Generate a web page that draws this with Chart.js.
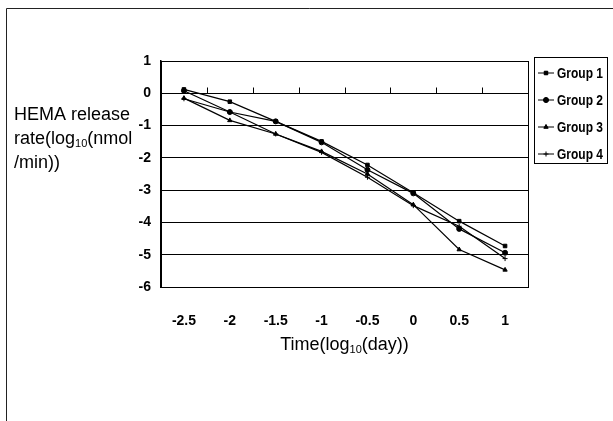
<!DOCTYPE html>
<html>
<head>
<meta charset="utf-8">
<script src="https://cdn.jsdelivr.net/npm/chart.js@4.4.0/dist/chart.umd.min.js"></script>
<style>
  html, body { margin: 0; padding: 0; background: #fff; }
  #wrap { width: 613px; height: 421px; position: relative; }
</style>
</head>
<body>
<div id="wrap"><canvas id="my-chart" width="613" height="421"></canvas></div>
<script>
// valeurs
const timeLabels = ['-2.5', '-2', '-1.5', '-1', '-0.5', '0', '0.5', '1'];
const yTicks = [1, 0, -1, -2, -3, -4, -5, -6];
const groupNames = ['Group 1', 'Group 2', 'Group 3', 'Group 4'];
const group1 = [0.12, -0.26, -0.87, -1.49, -2.22, -3.08, -3.96, -4.73];
const group2 = [0.08, -0.58, -0.87, -1.52, -2.37, -3.10, -4.20, -4.94];
const group3 = [-0.15, -0.84, -1.26, -1.80, -2.50, -3.45, -4.84, -5.47];
const group4 = [-0.17, -0.58, -1.26, -1.83, -2.60, -3.48, -4.12, -5.12];
const markers = ['rect', 'circle', 'triangle', 'cross'];

const boldFont = '"Liberation Sans", Arial, sans-serif';
const plainFont = '"Liberation Sans", Arial, sans-serif';

// dessine un texte avec "10" en indice
function drawSubText(ctx, parts, x, y) {
    let cx = x;
    for (let p of parts) {
        ctx.font = p.sub ? '11px ' + plainFont : '18px ' + plainFont;
        ctx.fillText(p.t, cx, p.sub ? y + 3 : y);
        cx += ctx.measureText(p.t).width;
    }
    return cx;
}
function subWidth(ctx, parts) {
    let w = 0;
    for (let p of parts) {
        ctx.font = p.sub ? '11px ' + plainFont : '18px ' + plainFont;
        w += ctx.measureText(p.t).width;
    }
    return w;
}

const decorPlugin = {
    id: 'decor',
    afterDraw(chart) {
        const ctx = chart.ctx;
        const x = chart.scales.x;
        const y = chart.scales.y;
        const area = chart.chartArea;
        ctx.save();
        // cadre extérieur (haut et gauche)
        ctx.strokeStyle = '#222';
        ctx.lineWidth = 1;
        ctx.beginPath();
        ctx.moveTo(6.5, 421);
        ctx.lineTo(6.5, 8.5);
        ctx.lineTo(613, 8.5);
        ctx.stroke();

        // petites graduations sur l'axe à y=0
        const y0 = Math.round(y.getPixelForValue(0)) + 0.5;
        ctx.strokeStyle = '#000';
        ctx.beginPath();
        for (let i = 0; i < timeLabels.length - 1; i++) {
            const bx = Math.round((x.getPixelForValue(i) + x.getPixelForValue(i + 1)) / 2) + 0.5;
            ctx.moveTo(bx, y0);
            ctx.lineTo(bx, y0 - 6);
        }
        ctx.stroke();

        // titres des axes
        ctx.fillStyle = '#000';
        ctx.textBaseline = 'alphabetic';
        ctx.textAlign = 'left';
        ctx.font = '18px ' + plainFont;
        ctx.fillText('HEMA release', 14, 120);
        drawSubText(ctx, [{t: 'rate(log'}, {t: '10', sub: true}, {t: '(nmol'}], 14, 144);
        ctx.font = '18px ' + plainFont;
        ctx.fillText('/min))', 14, 168);

        const xt = [{t: 'Time(log'}, {t: '10', sub: true}, {t: '(day))'}];
        const w = subWidth(ctx, xt);
        drawSubText(ctx, xt, (area.left + area.right) / 2 - w / 2, 350);

        // légende
        ctx.strokeStyle = '#000';
        ctx.strokeRect(534.5, 57.5, 73, 106);
        chart.data.datasets.forEach((ds, i) => {
            const ly = 73 + i * 27;
            ctx.beginPath();
            ctx.moveTo(538, ly);
            ctx.lineTo(554, ly);
            ctx.lineWidth = 1;
            ctx.stroke();
            Chart.helpers.drawPoint(ctx, {pointStyle: ds.pointStyle, radius: 2.5, borderWidth: 1}, 546, ly);
            ctx.fill();
            // texte resserré comme dans l'original
            ctx.save();
            ctx.translate(557, ly + 1);
            ctx.scale(0.8, 1);
            ctx.font = 'bold 15px ' + boldFont;
            ctx.textBaseline = 'middle';
            ctx.fillText(ds.label, 0, 0);
            ctx.restore();
        });
        ctx.restore();
    }
};

const allGroups = [group1, group2, group3, group4];
const datasets = allGroups.map((g, i) => ({
    label: groupNames[i],
    data: g,
    borderColor: '#000',
    backgroundColor: '#000',
    borderWidth: 1.2,
    pointStyle: markers[i],
    pointRadius: 2.5,
    pointBorderWidth: 1,
    tension: 0,
    fill: false
}));

new Chart(document.querySelector('#my-chart'), {
    type: 'line',
    data: { labels: timeLabels, datasets: datasets },
    options: {
        responsive: false,
        animation: false,
        devicePixelRatio: 1,
        layout: { padding: { left: 0, top: 61, right: 85, bottom: 0 } },
        plugins: { legend: { display: false }, tooltip: { enabled: false } },
        scales: {
            x: {
                type: 'category',
                offset: true,
                grid: { display: false, drawTicks: false },
                border: { display: true, color: '#000', width: 1 },
                ticks: {
                    padding: 26,
                    color: '#000',
                    font: { family: boldFont, size: 14, weight: 'bold' },
                    maxRotation: 0
                },
                afterFit(scale) { scale.height = 134; }
            },
            y: {
                min: -6,
                max: 1,
                afterBuildTicks(scale) { scale.ticks = yTicks.map(v => ({ value: v })); },
                grid: { color: '#000', lineWidth: 1, drawTicks: false },
                border: { display: true, color: '#000', width: 1.5 },
                ticks: {
                    padding: 10,
                    color: '#000',
                    font: { family: boldFont, size: 14, weight: 'bold' }
                },
                afterFit(scale) { scale.width = 161; }
            }
        }
    },
    plugins: [decorPlugin, {
        id: 'plotBorder',
        beforeDatasetsDraw(chart) {
            const a = chart.chartArea;
            const ctx = chart.ctx;
            ctx.save();
            ctx.strokeStyle = '#000';
            ctx.lineWidth = 1;
            ctx.strokeRect(Math.round(a.left) + 0.5, Math.round(a.top) + 0.5, Math.round(a.right - a.left), Math.round(a.bottom - a.top));
            ctx.restore();
        }
    }]
});
</script>
</body>
</html>
